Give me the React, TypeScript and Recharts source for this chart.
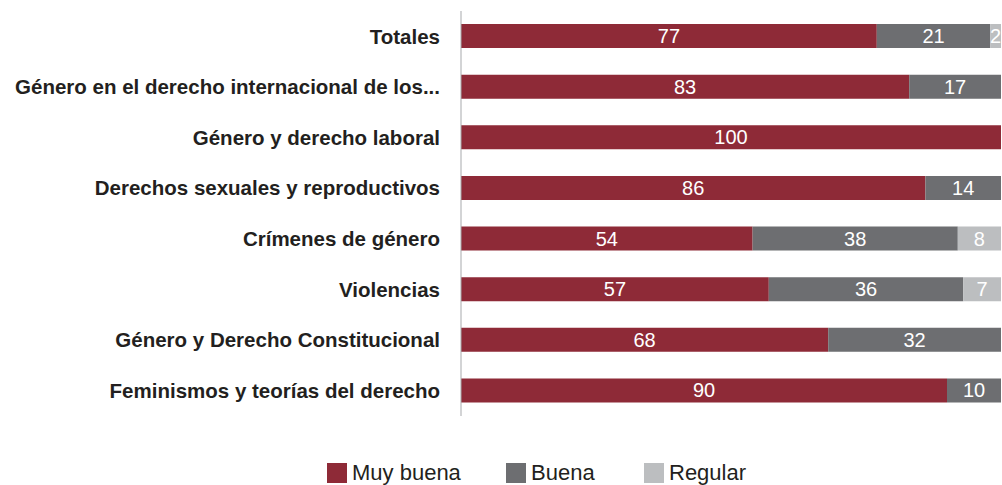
import { BarChart, Bar, XAxis, YAxis, LabelList, Legend } from "recharts";

const categories = [
  "Totales",
  "Género en el derecho internacional de los...",
  "Género y derecho laboral",
  "Derechos sexuales y reproductivos",
  "Crímenes de género",
  "Violencias",
  "Género y Derecho Constitucional",
  "Feminismos y teorías del derecho",
];
const muyBuena = [77, 83, 100, 86, 54, 57, 68, 90];
const buena = [21, 17, null, 14, 38, 36, 32, 10];
const regular = [2, null, null, null, 8, 7, null, null];

const series = [
  { key: "muyBuena", name: "Muy buena", color: "#8e2a37" },
  { key: "buena", name: "Buena", color: "#6d6e71" },
  { key: "regular", name: "Regular", color: "#bcbec0" },
];

const data = categories.map((name, i) => ({
  name,
  muyBuena: muyBuena[i],
  buena: buena[i],
  regular: regular[i],
}));

const FONT = "'Liberation Sans', Arial, Helvetica, sans-serif";
// left edge of each legend item
const legendX = [327, 506, 644];

function LegendContent() {
  return (
    <div style={{ position: "relative", width: 1002, height: 69, fontFamily: FONT }}>
      {series.map((s, i) => (
        <div
          key={s.key}
          style={{ position: "absolute", left: legendX[i], top: 46, display: "flex", alignItems: "center" }}
        >
          <div style={{ width: 20, height: 20, background: s.color, marginRight: 5 }} />
          <span style={{ fontSize: 22, lineHeight: "22px", color: "#231f20" }}>{s.name}</span>
        </div>
      ))}
    </div>
  );
}

export default function App() {
  return (
    <div style={{ position: "absolute", left: 0, top: 0, background: "#fff" }}>
      <BarChart
        width={1002}
        height={485}
        data={data}
        layout="vertical"
        margin={{ top: 11, right: 1, bottom: 0, left: 0 }}
        barSize={24}
      >
        <XAxis type="number" domain={[0, 100]} hide />
        <YAxis
          type="category"
          dataKey="name"
          width={461}
          axisLine={{ stroke: "#a7a9ac", strokeWidth: 1 }}
          tickLine={false}
          tickSize={0}
          tickMargin={21}
          interval={0}
          tick={{ fontSize: 20.5, fontWeight: 600, fill: "#231f20", fontFamily: FONT }}
        />
        <Legend
          verticalAlign="bottom"
          height={69}
          wrapperStyle={{ left: 0, width: 1002 }}
          content={<LegendContent />}
        />
        {series.map((s) => (
          <Bar key={s.key} dataKey={s.key} name={s.name} stackId="a" fill={s.color} isAnimationActive={false}>
            <LabelList
              dataKey={s.key}
              position="center"
              fill="#ffffff"
              fontSize={20}
              fontFamily={FONT}
              formatter={(v: any) => (v ? v : "")}
            />
          </Bar>
        ))}
      </BarChart>
    </div>
  );
}
